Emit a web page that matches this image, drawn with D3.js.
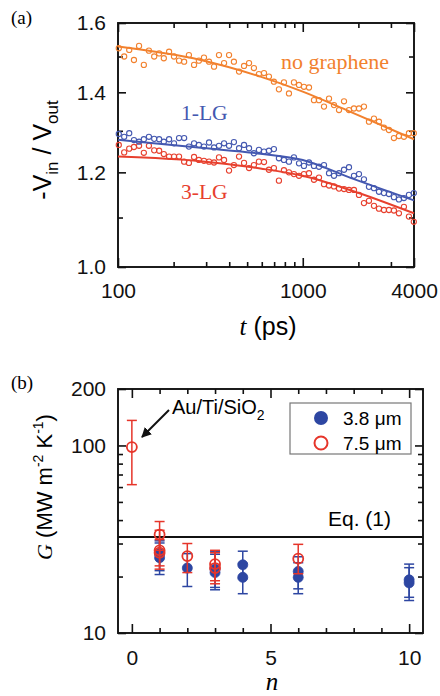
<!DOCTYPE html>
<html>
<head>
<meta charset="utf-8">
<script src="https://cdn.jsdelivr.net/npm/d3@7"></script>
<style>
	body{margin:0;background:#fff;}
	svg{display:block;}
	.axis path.domain{display:none;}
	.axis line{stroke:#111;stroke-width:1.6;}
	.axis text{font-family:"Liberation Sans",Arial,sans-serif;font-size:21px;fill:#111;}
	.sans{font-family:"Liberation Sans",Arial,sans-serif;}
	.serif{font-family:"Liberation Serif","Times New Roman",serif;}
</style>
</head>
<body>
<svg id="chart" width="440" height="696"></svg>
<script>
// ---- panel (a): -Vin/Vout vs delay time ----
var delay = [101,108,115,122,130,138,147,157,167,177,189,201,214,228,242,258,274,292,311,331,
	352,375,399,424,452,481,512,544,579,617,656,698,743,791,842,896,954,1015,1081,1150,
	1224,1303,1387,1476,1571,1672,1779,1893,2015,2144,2282,2429,2585,2751,2927,3115,3315,3528,3755,3990];

var ratioNoGraphene = [1.524,1.500,1.519,1.490,1.531,1.476,1.517,1.500,1.509,1.495,
	1.514,1.500,1.488,1.485,1.504,1.476,1.488,1.497,1.485,1.471,
	1.504,1.481,1.504,1.485,1.457,1.473,1.481,1.467,1.450,1.453,
	1.443,1.429,1.408,1.427,1.397,1.427,1.420,1.415,1.413,1.379,
	1.379,1.362,1.383,1.366,1.353,1.376,1.353,1.357,1.357,1.362,
	1.323,1.331,1.323,1.308,1.302,1.282,1.287,1.285,1.294,1.294];

var ratio1LG = [1.292,1.285,1.294,1.277,1.273,1.279,1.285,1.280,1.279,1.273,
	1.279,1.269,1.282,1.282,1.261,1.269,1.265,1.261,1.271,1.259,
	1.263,1.269,1.263,1.272,1.257,1.265,1.257,1.245,1.253,1.249,
	1.251,1.255,1.233,1.229,1.225,1.235,1.221,1.215,1.223,1.215,
	1.213,1.217,1.198,1.192,1.198,1.206,1.212,1.192,1.196,1.184,
	1.167,1.164,1.156,1.153,1.151,1.144,1.139,1.142,1.149,1.153];

var ratio3LG = [1.265,1.247,1.256,1.260,1.263,1.246,1.263,1.252,1.251,1.243,
	1.237,1.237,1.237,1.225,1.222,1.236,1.229,1.227,1.225,1.223,
	1.235,1.229,1.204,1.217,1.237,1.222,1.210,1.217,1.225,1.224,
	1.206,1.210,1.181,1.205,1.200,1.196,1.192,1.196,1.198,1.183,
	1.188,1.173,1.170,1.168,1.163,1.162,1.160,1.160,1.149,1.131,
	1.136,1.125,1.119,1.116,1.116,1.115,1.109,1.123,1.102,1.091];

// model fits
var fitDelay = [100, 280, 590, 1000, 1800, 4000];
var fitNoGraphene = [1.529, 1.490, 1.443, 1.402, 1.349, 1.279];
var fit1LG = [1.278, 1.258, 1.244, 1.229, 1.188, 1.137];
var fit3LG = [1.237, 1.226, 1.209, 1.192, 1.160, 1.109];

var xTicksA = [100, 1000, 4000];
var xMinorA = [200,300,400,500,600,700,800,900,2000,3000];
var yTicksA = [1.0, 1.2, 1.4, 1.6];
var yMinorA = [1.1, 1.3, 1.5];

// ---- panel (b): G vs number of layers ----
var layersBlue = [1,1,2,3,3,4,4,6,6,10,10];
var gBlue      = [25.2,26.5,22.2,21.0,21.9,23.1,19.8,21.3,19.8,19.2,18.5];
var gBlueLow   = [20.5,21.5,17.7,17.0,17.5,19.5,16.2,17.2,16.2,15.5,14.9];
var gBlueHigh  = [30.2,31.0,26.5,26.3,27.3,27.3,23.5,25.5,23.7,23.3,22.3];

var layersRed = [0,1,1,1,2,3,3,6];
var gRed      = [98,33.5,27.6,26.8,25.7,23.3,22.2,24.9];
var gRedLow   = [61.8,27.6,22.8,21.9,21.0,19.0,18.3,20.7];
var gRedHigh  = [136,39.3,35.3,31.5,30.0,27.6,26.8,29.7];

var gModel = 32.5;

var xTicksB = [0, 5, 10];
var xMinorB = [1,2,3,4,6,7,8,9];
var yTicksB = [10, 100, 200];
var yMinorB = [20,30,40,50,60,70,80,90];

var orange = "#f2812e", blueA = "#4458b0", redA = "#e7402e";
var blueB = "#2d46a2", redB = "#e6352a";

var svg = d3.select("#chart");

function frameAxes(g, x, y, xMaj, xMin, yMaj, yMin, xFmt, yFmt, xPad){
	var x0 = x.range()[0], x1 = x.range()[1], y0 = y.range()[0], y1 = y.range()[1];

	g.append("g").attr("class","axis").attr("transform","translate(0,"+y0+")")
		.call(d3.axisBottom(x).tickValues(xMaj).tickSize(-9).tickPadding(xPad).tickFormat(xFmt));
	g.append("g").attr("class","axis").attr("transform","translate(0,"+y0+")")
		.call(d3.axisBottom(x).tickValues(xMin).tickSize(-5).tickFormat(""));
	g.append("g").attr("class","axis").attr("transform","translate(0,"+y1+")")
		.call(d3.axisTop(x).tickValues(xMaj).tickSize(-9).tickFormat(""));
	g.append("g").attr("class","axis").attr("transform","translate(0,"+y1+")")
		.call(d3.axisTop(x).tickValues(xMin).tickSize(-5).tickFormat(""));

	g.append("g").attr("class","axis").attr("transform","translate("+x0+",0)")
		.call(d3.axisLeft(y).tickValues(yMaj).tickSize(-8).tickPadding(12).tickFormat(yFmt));
	g.append("g").attr("class","axis").attr("transform","translate("+x0+",0)")
		.call(d3.axisLeft(y).tickValues(yMin).tickSize(-5).tickFormat(""));
	g.append("g").attr("class","axis").attr("transform","translate("+x1+",0)")
		.call(d3.axisRight(y).tickValues(yMaj).tickSize(-8).tickFormat(""));
	g.append("g").attr("class","axis").attr("transform","translate("+x1+",0)")
		.call(d3.axisRight(y).tickValues(yMin).tickSize(-5).tickFormat(""));

	g.append("rect").attr("x",x0).attr("y",y1).attr("width",x1-x0).attr("height",y0-y1)
		.attr("fill","none").attr("stroke","#111").attr("stroke-width",1.9);
}

// ===== panel (a) =====
var xA = d3.scaleLog().domain([100,4000]).range([118,414]);
var yA = d3.scaleLog().domain([1.0,1.6]).range([267,23]);
var gA = svg.append("g");

frameAxes(gA, xA, yA, xTicksA, xMinorA, yTicksA, yMinorA, d3.format("d"), d3.format(".1f"), 16);

var seriesA = [
	{vals: ratioNoGraphene, fit: fitNoGraphene, color: orange},
	{vals: ratio3LG, fit: fit3LG, color: redA},
	{vals: ratio1LG, fit: fit1LG, color: blueA}
];

var fitLine = d3.line()
	.x(function(d){ return xA(d[0]); })
	.y(function(d){ return yA(d[1]); })
	.curve(d3.curveMonotoneX);

seriesA.forEach(function(s){
	gA.append("g").selectAll("circle")
		.data(delay.map(function(t,i){ return [t, s.vals[i]]; }))
		.enter().append("circle")
		.attr("cx", function(d){ return xA(d[0]); })
		.attr("cy", function(d){ return yA(d[1]); })
		.attr("r", 2.6)
		.attr("fill","none")
		.attr("stroke", s.color)
		.attr("stroke-width", 1.1);
});
seriesA.forEach(function(s){
	gA.append("path")
		.datum(fitDelay.map(function(t,i){ return [t, s.fit[i]]; }))
		.attr("d", fitLine)
		.attr("fill","none")
		.attr("stroke", s.color)
		.attr("stroke-width", 2);
});

gA.append("text").attr("class","serif").attr("x",281).attr("y",69)
	.attr("font-size",22).attr("fill",orange).text("no graphene");
gA.append("text").attr("class","serif").attr("x",181).attr("y",120)
	.attr("font-size",21.5).attr("fill",blueA).text("1-LG");
gA.append("text").attr("class","serif").attr("x",181).attr("y",199)
	.attr("font-size",21.5).attr("fill",redA).text("3-LG");

svg.append("text").attr("class","serif").attr("x",11).attr("y",24)
	.attr("font-size",19).text("(a)");

// axis titles (a)
var tTitle = svg.append("text").attr("class","sans").attr("x",268).attr("y",335)
	.attr("font-size",25).attr("text-anchor","middle");
tTitle.append("tspan").attr("class","serif").attr("font-style","italic").text("t");
tTitle.append("tspan").text(" (ps)");

var vTitle = svg.append("text").attr("class","sans").attr("font-size",25)
	.attr("text-anchor","middle").attr("transform","translate(51,150) rotate(-90)");
vTitle.append("tspan").text("-V");
vTitle.append("tspan").attr("font-size",17).attr("dy",7).text("in");
vTitle.append("tspan").attr("dy",-7).text(" / V");
vTitle.append("tspan").attr("font-size",17).attr("dy",7).text("out");

// ===== panel (b) =====
var xB = d3.scaleLinear().domain([-0.5,10.5]).range([118,423]);
var yB = d3.scaleLog().domain([10,200]).range([633,389]);
var gB = svg.append("g");

frameAxes(gB, xB, yB, xTicksB, xMinorB, yTicksB, yMinorB, d3.format("d"), d3.format("d"), 17);

gB.append("line").attr("x1",xB(-0.5)).attr("x2",xB(10.5))
	.attr("y1",yB(gModel)).attr("y2",yB(gModel))
	.attr("stroke","#111").attr("stroke-width",1.8);
gB.append("text").attr("class","sans").attr("x",328).attr("y",526)
	.attr("font-size",21).text("Eq. (1)");

function errorSeries(n, g, lo, hi, color, filled){
	var pts = n.map(function(v,i){ return {n:v, g:g[i], lo:lo[i], hi:hi[i]}; });
	var grp = gB.append("g").attr("stroke",color).attr("stroke-width",1.5);
	grp.selectAll(".bar").data(pts).enter().append("line")
		.attr("x1",function(d){ return xB(d.n); }).attr("x2",function(d){ return xB(d.n); })
		.attr("y1",function(d){ return yB(d.lo); }).attr("y2",function(d){ return yB(d.hi); });
	grp.selectAll(".capLo").data(pts).enter().append("line")
		.attr("x1",function(d){ return xB(d.n)-5; }).attr("x2",function(d){ return xB(d.n)+5; })
		.attr("y1",function(d){ return yB(d.lo); }).attr("y2",function(d){ return yB(d.lo); });
	grp.selectAll(".capHi").data(pts).enter().append("line")
		.attr("x1",function(d){ return xB(d.n)-5; }).attr("x2",function(d){ return xB(d.n)+5; })
		.attr("y1",function(d){ return yB(d.hi); }).attr("y2",function(d){ return yB(d.hi); });
	grp.selectAll("circle").data(pts).enter().append("circle")
		.attr("cx",function(d){ return xB(d.n); })
		.attr("cy",function(d){ return yB(d.g); })
		.attr("r",5)
		.attr("fill", filled ? color : "none")
		.attr("stroke-width", filled ? 0.8 : 1.8);
}
errorSeries(layersBlue, gBlue, gBlueLow, gBlueHigh, blueB, true);
errorSeries(layersRed, gRed, gRedLow, gRedHigh, redB, false);

// annotation arrow
svg.append("defs").append("marker").attr("id","head")
	.attr("viewBox","0 0 10 10").attr("refX",9).attr("refY",5)
	.attr("markerWidth",5).attr("markerHeight",5).attr("orient","auto")
	.append("path").attr("d","M0,0L10,5L0,10z").attr("fill","#111");
gB.append("line").attr("x1",169).attr("y1",410).attr("x2",142).attr("y2",437)
	.attr("stroke","#111").attr("stroke-width",2).attr("marker-end","url(#head)");
var au = gB.append("text").attr("class","sans").attr("x",172).attr("y",414).attr("font-size",20);
au.append("tspan").text("Au/Ti/SiO");
au.append("tspan").attr("font-size",14).attr("dy",6).text("2");

// legend
var leg = gB.append("g");
leg.append("rect").attr("x",290).attr("y",403).attr("width",121).attr("height",51)
	.attr("fill","#fff").attr("stroke","#777").attr("stroke-width",1.2);
leg.append("circle").attr("cx",321).attr("cy",418).attr("r",7).attr("fill",blueB);
leg.append("circle").attr("cx",321).attr("cy",443).attr("r",6.5).attr("fill","none")
	.attr("stroke",redB).attr("stroke-width",2);
leg.append("text").attr("class","sans").attr("x",343).attr("y",425).attr("font-size",19).text("3.8 \u03bcm");
leg.append("text").attr("class","sans").attr("x",343).attr("y",450).attr("font-size",19).text("7.5 \u03bcm");

svg.append("text").attr("class","serif").attr("x",11).attr("y",389)
	.attr("font-size",19).text("(b)");

var nTitle = svg.append("text").attr("class","serif").attr("x",272).attr("y",690)
	.attr("font-size",25).attr("font-style","italic").attr("text-anchor","middle").text("n");

var gTitle = svg.append("text").attr("class","sans").attr("font-size",22)
	.attr("text-anchor","middle").attr("transform","translate(52,487) rotate(-90)");
gTitle.append("tspan").attr("class","serif").attr("font-style","italic").text("G");
gTitle.append("tspan").text(" (MW m");
gTitle.append("tspan").attr("font-size",14).attr("dy",-9).text("-2");
gTitle.append("tspan").attr("dy",9).text(" K");
gTitle.append("tspan").attr("font-size",14).attr("dy",-9).text("-1");
gTitle.append("tspan").attr("dy",9).text(")");
</script>
</body>
</html>
